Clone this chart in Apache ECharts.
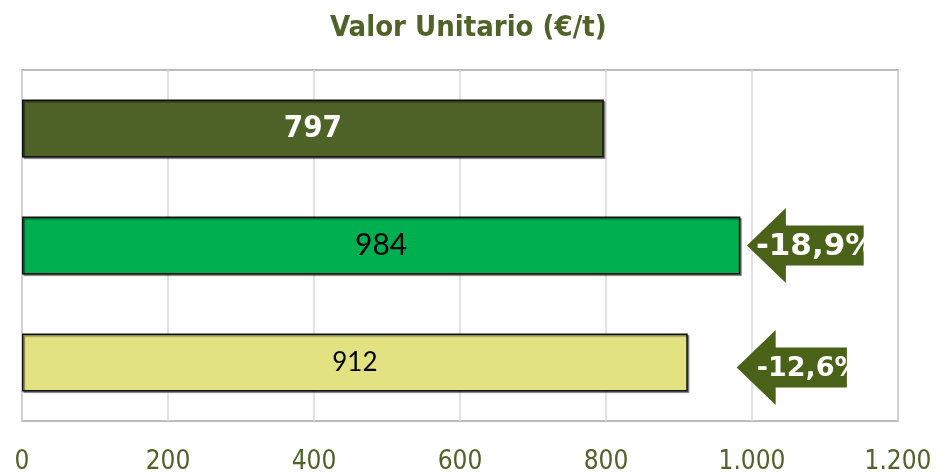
<!DOCTYPE html>
<html>
<head>
<meta charset="utf-8">
<script src="https://cdn.jsdelivr.net/npm/echarts@6/dist/echarts.min.js"></script>
<style>
  html, body { margin: 0; padding: 0; background: #fff; }
  #chart { width: 939px; height: 475px; }
</style>
</head>
<body>
<div id="chart"></div>
<script>
const categories = ["Periodo actual", "Periodo anterior", "Media"];
const unitValues = [797, 984, 912];
const changeLabels = ["", "-18,9%", "-12,6%"];
const tickLabels = ["0", "200", "400", "600", "800", "1.000", "1.200"];

const chart = echarts.init(document.getElementById("chart"));

// styles per bar (top to bottom)
const barStyles = [
  { color: "#4f6228", label: { color: "#fff", fontSize: 31, fontWeight: "bold", fontFamily: "DejaVu Sans Condensed" } },
  { color: "#00b050", label: { color: "#000", fontSize: 30, fontFamily: "Lato" } },
  { color: "#e2e282", label: { color: "#000", fontSize: 26, fontFamily: "Lato" } },
];

// arrow geometry per category, in axis units / pixels
const arrowLayout = {
  1: { tip: 993, end: 1153, dy: 0, textDx: 9, fontSize: 31 },
  2: { tip: 979, end: 1130, dy: 5, textDx: 20, fontSize: 27 },
};

const arrowData = [];
changeLabels.forEach((txt, i) => {
  if (txt) arrowData.push([i, txt]);
});

chart.setOption({
  animation: false,
  title: {
    text: "Valor Unitario (€/t)",
    left: 325,
    top: 9,
    textStyle: { color: "#4f6228", fontSize: 29, fontWeight: "bold", fontFamily: "DejaVu Sans Condensed" },
  },
  grid: {
    left: 22, right: 41, top: 70, bottom: 51,
    show: true, borderColor: "#a6a6a6", borderWidth: 1.5,
  },
  xAxis: {
    type: "value",
    min: 0,
    max: 1200,
    interval: 200,
    axisLine: { show: false },
    axisTick: { show: false },
    splitLine: { lineStyle: { color: "#d9d9d9", width: 1.5 } },
    axisLabel: {
      color: "#4f6228",
      fontSize: 26,
      fontFamily: "DejaVu Sans Condensed",
      margin: 28,
      formatter: (v) => tickLabels[Math.round(v / 200)],
    },
  },
  yAxis: {
    type: "category",
    inverse: true,
    data: categories,
    axisLine: { show: false },
    axisTick: { show: false },
    axisLabel: { show: false },
    splitLine: { show: false },
  },
  series: [
    {
      type: "bar",
      barWidth: 58,
      data: unitValues.map((v, i) => ({
        value: v,
        itemStyle: {
          color: barStyles[i].color,
          borderColor: "#111",
          borderWidth: 1.5,
          shadowColor: "rgba(0,0,0,0.45)",
          shadowOffsetX: 1.5,
          shadowOffsetY: 1.5,
          shadowBlur: 1,
        },
        label: Object.assign({ show: true, position: "inside" }, barStyles[i].label),
      })),
    },
    {
      type: "custom",
      data: arrowData,
      encode: { y: 0 },
      renderItem: (params, api) => {
        const cat = api.value(0);
        const lay = arrowLayout[cat];
        const p0 = api.coord([lay.tip, cat]);
        const p1 = api.coord([lay.end, cat]);
        const x0 = p0[0], x1 = p1[0], yc = p0[1] + lay.dy;
        const head = 39, hh = 37.5, sh = 20;
        return {
          type: "group",
          children: [
            {
              type: "polygon",
              shape: {
                points: [
                  [x0, yc], [x0 + head, yc - hh], [x0 + head, yc - sh],
                  [x1, yc - sh], [x1, yc + sh], [x0 + head, yc + sh], [x0 + head, yc + hh],
                ],
              },
              style: { fill: "#4a6218" },
            },
            {
              type: "text",
              style: {
                x: x0 + lay.textDx,
                y: yc + 1,
                text: arrowData[params.dataIndex][1],
                fill: "#fff",
                fontSize: lay.fontSize,
                fontWeight: "bold",
                fontFamily: "DejaVu Sans",
                verticalAlign: "middle",
                align: "left",
              },
            },
          ],
        };
      },
    },
  ],
});
</script>
</body>
</html>
